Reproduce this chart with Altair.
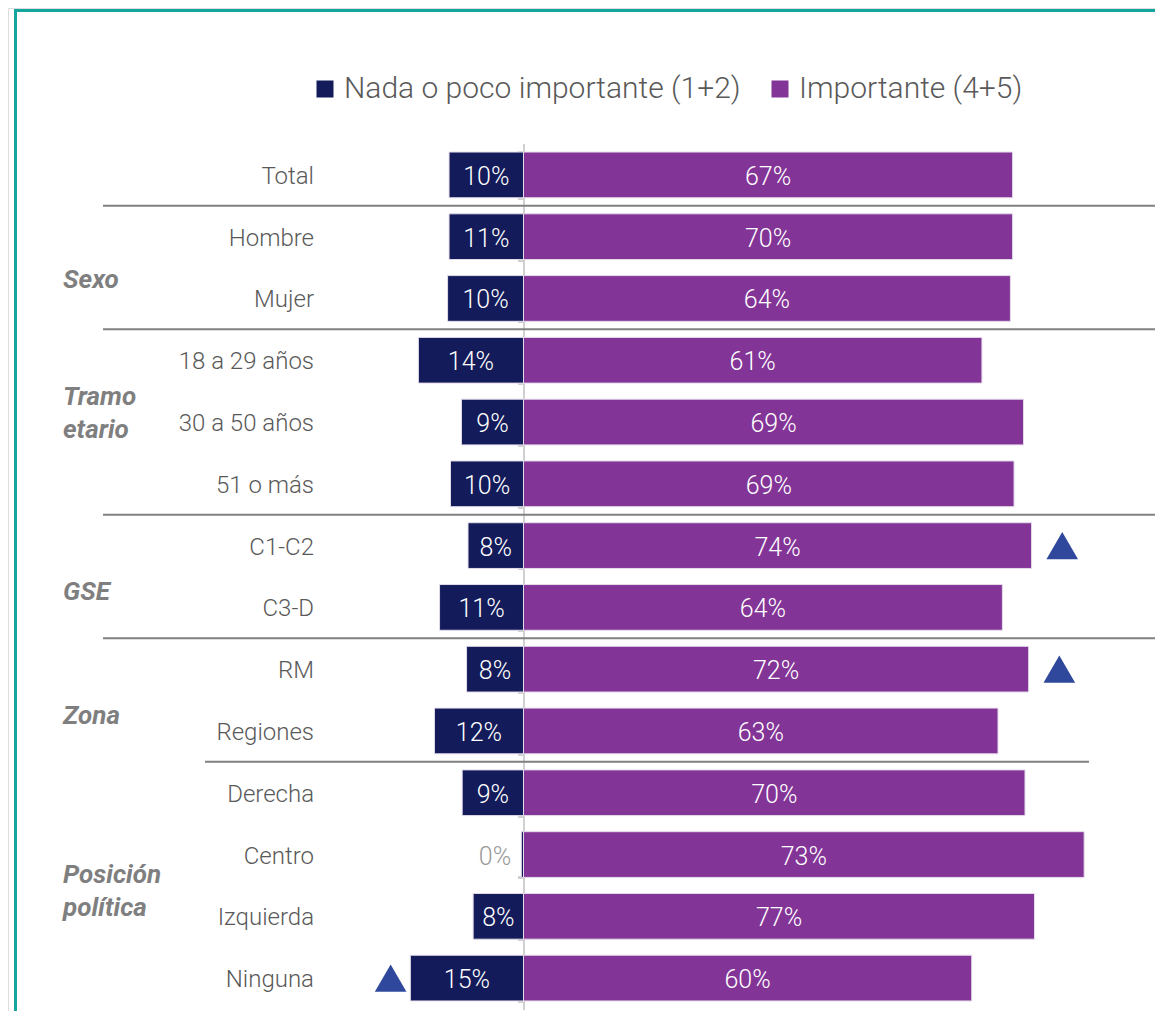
import altair as alt
import pandas as pd

# ---------------- data ----------------
cats = ["Total", "Hombre", "Mujer", "18 a 29 años", "30 a 50 años", "51 o más",
        "C1-C2", "C3-D", "RM", "Regiones", "Derecha", "Centro", "Izquierda", "Ninguna"]
# bar lengths as drawn in the picture
nada_bar = [10.2, 10.2, 10.4, 14.4, 8.5, 10.0, 7.6, 11.5, 7.8, 12.2, 8.4, 0.3, 6.9, 15.5]
imp_bar = [67.0, 67.0, 66.7, 62.8, 68.5, 67.2, 69.6, 65.6, 69.2, 65.0, 68.7, 76.8, 70.0, 61.4]
# labels printed on the bars
nada_lbl = [10, 11, 10, 14, 9, 10, 8, 11, 8, 12, 9, 0, 8, 15]
imp_lbl = [67, 70, 64, 61, 69, 69, 74, 64, 72, 63, 70, 73, 77, 60]

S_NADA = "Nada o poco importante (1+2)"
S_IMP = "Importante (4+5)"
series = [S_NADA, S_IMP]
colors = ["#131B5A", "#833497"]

groups = [("Sexo", "Mujer"), ("Tramo\netario", "30 a 50 años"), ("GSE", "C3-D"),
          ("Zona", "Regiones"), ("Posición\npolítica", "Izquierda")]
group_dy = [-18.5, -25, -15.5, -15, -41.5]

sig_cats = ["C1-C2", "RM", "Ninguna"]
sig_series = [S_IMP, S_IMP, S_NADA]

sep_major = [1, 3, 6, 8]   # boundaries (row index) with long separators
sep_minor = [10]           # boundary with short separator

# ---------------- tables ----------------
rows = []
for i, c in enumerate(cats):
    rows.append({"cat": c, "series": S_NADA, "value": nada_bar[i], "lbl": f"{nada_lbl[i]}%"})
    rows.append({"cat": c, "series": S_IMP, "value": imp_bar[i], "lbl": f"{imp_lbl[i]}%"})
df = pd.DataFrame(rows)

sig_rows = []
for c, s in zip(sig_cats, sig_series):
    i = cats.index(c)
    v = imp_bar[i] if s == S_IMP else nada_bar[i]
    sig_rows.append({"cat": c, "series": s, "value": v})
sig_df = pd.DataFrame(sig_rows)

W, H = 1147, 1003
ZERO_PX = 515.5
K = 7.3
xscale = alt.Scale(domain=[-ZERO_PX / K, (W - ZERO_PX) / K], nice=False, zero=False)
yscale = alt.Scale(domain=cats, range=[136, 1001], paddingInner=0.26, paddingOuter=0.13)
yaxis = alt.Axis(title=None, labels=False, orient="left", domainColor="#D0D0D0", domainWidth=2,
                 tickColor="#D0D0D0", tickWidth=2, tickSize=6, tickBand="extent",
                 offset=-ZERO_PX, grid=False)
Y = alt.Y("cat:N", sort=cats, scale=yscale, axis=yaxis)
FONT = "Roboto"

base = alt.Chart(df)

bars = base.transform_calculate(
    xs="datum.series == '%s' ? -datum.value : 0" % S_NADA,
    xe="datum.series == '%s' ? 0 : datum.value" % S_NADA,
).mark_bar(stroke="#E4DCEA", strokeWidth=1).encode(
    x=alt.X("xs:Q", scale=xscale, axis=None),
    x2="xe:Q",
    y=Y,
    color=alt.Color("series:N", scale=alt.Scale(domain=series, range=colors),
                    legend=alt.Legend(orient="none", legendX=302, legendY=66,
                                      direction="horizontal", title=None,
                                      symbolType="square", symbolSize=289,
                                      symbolStrokeWidth=0, labelFontSize=30,
                                      labelFontWeight=300,
                                      labelFont=FONT, labelColor="#595959",
                                      labelOffset=4, columnPadding=24,
                                      labelLimit=600, symbolOpacity=1)),
)

labels = base.transform_calculate(
    lx="datum.series == '%s' ? (datum.value < 1 ? -3.9 : -datum.value / 2) : datum.value / 2" % S_NADA,
    zero="datum.value < 1 ? 1 : 0",
).mark_text(font=FONT, fontSize=25, fontWeight=300, baseline="middle", align="center", dy=2).encode(
    x=alt.X("lx:Q", scale=xscale, axis=None),
    y=Y,
    text="lbl:N",
    color=alt.condition("datum.zero == 1", alt.value("#9A9A9A"), alt.value("#FFFFFF")),
)

tri = alt.Chart(sig_df).transform_calculate(
    tx="datum.series == '%s' ? datum.value + 4.2 : -(datum.value + 2.7)" % S_IMP
).mark_point(shape="triangle-up", filled=True, size=1000, color="#2F489C", opacity=1).encode(
    x=alt.X("tx:Q", scale=xscale, axis=None),
    y=Y,
)

cat_df = pd.DataFrame({"cat": cats})
cat_text = alt.Chart(cat_df).mark_text(font=FONT, fontSize=24, fontWeight=300, align="right",
                                        baseline="middle", color="#595959", dy=2).encode(
    x=alt.value(306), y=Y, text="cat:N")

group_layers = []
for (name, anchor), dy in zip(groups, group_dy):
    gdf = pd.DataFrame({"cat": [anchor], "name": [name.split("\n")]})
    group_layers.append(
        alt.Chart(gdf).mark_text(font=FONT, fontSize=26, fontWeight="bold", fontStyle="italic",
                                 align="left", baseline="middle", color="#7F7F7F",
                                 lineHeight=33, dy=dy).encode(
            x=alt.value(55), y=Y, text="name"))

sy = alt.Scale(domain=[0, 14], range=[136, 1001])
sep1 = alt.Chart(pd.DataFrame({"b": sep_major})).mark_rule(color="#808080", strokeWidth=2).encode(
    y=alt.Y("b:Q", scale=sy, axis=None), x=alt.value(95), x2=alt.value(W))
sep2 = alt.Chart(pd.DataFrame({"b": sep_minor})).mark_rule(color="#808080", strokeWidth=2).encode(
    y=alt.Y("b:Q", scale=sy, axis=None), x=alt.value(197), x2=alt.value(1081))

frame_left = alt.Chart(pd.DataFrame({"a": [0]})).mark_rule(color="#13A59E", strokeWidth=3).encode(
    x=alt.value(7.5), y=alt.value(1), y2=alt.value(H))
frame_top = alt.Chart(pd.DataFrame({"a": [0]})).mark_rule(color="#13A59E", strokeWidth=3).encode(
    y=alt.value(2.5), x=alt.value(6), x2=alt.value(W))

chart = alt.layer(
    sep1, sep2, bars, labels, tri, cat_text, *group_layers, frame_left, frame_top
).resolve_scale(y="independent").properties(
    width=W, height=H, autosize=alt.AutoSizeParams(type="none"), padding=0,
    background="white"
).configure_view(stroke=None).configure(font=FONT)

chart.save("out.html", embed_options={"renderer": "svg", "actions": False})
